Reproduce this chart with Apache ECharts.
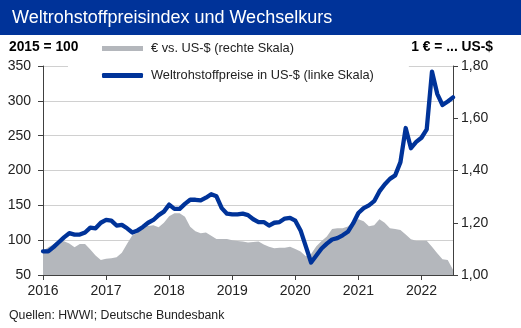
<!DOCTYPE html>
<html>
<head>
<meta charset="utf-8">
<script src="https://cdn.jsdelivr.net/npm/echarts@6/dist/echarts.min.js"></script>
<style>
  html, body { margin: 0; padding: 0; background: #fff; }
  #chart { width: 521px; height: 328px; }
</style>
</head>
<body>
<div id="chart"></div>
<script>
// Monthly observations, January 2016 to July 2022
const years = [2016, 2017, 2018, 2019, 2020, 2021, 2022];
const lastMonth2022 = 7;

// HWWI commodity price index in US-$ (2015 = 100), left scale
const commodityIndex = [
  84, 84, 90, 97, 104, 110, 108, 108, 111, 118, 117, 125,
  129, 128, 121, 122, 117, 111, 114, 119, 125, 129, 136, 141,
  151, 145, 145, 152, 158, 158, 157, 161, 166, 163, 146, 138,
  137, 137, 138, 136, 130, 126, 126, 121, 125, 126, 131, 132,
  128, 114, 91, 68, 78, 88, 95, 101, 103, 107, 112, 124,
  139, 146, 150, 156, 170, 180, 188, 193, 212, 261, 232, 241,
  247, 259, 342, 310, 294, 299, 305
];

// Euro exchange rate in US-$ per euro, right scale
const eurUsd = [
  1.092, 1.106, 1.118, 1.134, 1.129, 1.121, 1.106, 1.119, 1.119, 1.098, 1.075, 1.057,
  1.062, 1.064, 1.068, 1.085, 1.120, 1.152, 1.162, 1.192, 1.188, 1.190, 1.183, 1.200,
  1.225, 1.236, 1.236, 1.223, 1.185, 1.167, 1.160, 1.163, 1.150, 1.138, 1.138, 1.138,
  1.133, 1.130, 1.128, 1.124, 1.126, 1.128, 1.117, 1.108, 1.102, 1.104, 1.104, 1.108,
  1.100, 1.090, 1.072, 1.080, 1.110, 1.130, 1.147, 1.176, 1.179, 1.179, 1.186, 1.204,
  1.213, 1.206, 1.187, 1.190, 1.213, 1.200, 1.179, 1.176, 1.172, 1.155, 1.137, 1.131,
  1.131, 1.131, 1.108, 1.083, 1.060, 1.057, 1.020
];

const leftTicks = { min: 50, max: 350, step: 50 };
const rightTicks = { min: 1.0, max: 1.8, step: 0.2 };

const seriesNames = ['€ vs. US-$ (rechte Skala)', 'Weltrohstoffpreise in US-$ (linke Skala)'];

// month categories: "2016-01" ... "2022-07"
const months = [];
years.forEach(function (y) {
  const n = y === years[years.length - 1] ? lastMonth2022 : 12;
  for (let m = 1; m <= n; m++) months.push(y + '-' + (m < 10 ? '0' + m : m));
});

const BLUE = '#003399';
const GREY = '#b4b7bc';
const FONT = 'Liberation Sans, Arial, sans-serif';

const chart = echarts.init(document.getElementById('chart'), null, { renderer: 'canvas' });

chart.setOption({
  animation: false,
  textStyle: { fontFamily: FONT },
  grid: { left: 43, right: 68, top: 66, bottom: 53, containLabel: false },
  graphic: [
    { type: 'rect', left: 0, top: 0, shape: { width: 521, height: 35 }, style: { fill: BLUE }, z: 10 },
    { type: 'text', left: 12, top: 9, z: 11,
      style: { text: 'Weltrohstoffpreisindex und Wechselkurs', fill: '#fff', font: '18px ' + FONT } },
    { type: 'text', left: 9, top: 40, z: 11,
      style: { text: '2015 = 100', fill: '#000', font: 'bold 13.8px ' + FONT } },
    { type: 'text', right: 28, top: 40, z: 11,
      style: { text: '1 € = ... US-$', fill: '#000', font: 'bold 13.8px ' + FONT } },
    { type: 'text', left: 9, top: 310, z: 11,
      style: { text: 'Quellen: HWWI; Deutsche Bundesbank', fill: '#222', font: '12.3px ' + FONT } }
  ],
  legend: {
    orient: 'vertical',
    left: 68,
    top: 40,
    padding: [2, 35, 2, 34],
    backgroundColor: '#fff',
    itemGap: 14,
    itemWidth: 41,
    itemHeight: 5,
    textStyle: { fontFamily: FONT, fontSize: 12.8, color: '#222', padding: [0, 0, 0, 3] },
    data: [
      { name: seriesNames[0], icon: 'rect', itemStyle: { color: GREY } },
      { name: seriesNames[1], icon: 'roundRect', itemStyle: { color: BLUE } }
    ]
  },
  xAxis: {
    type: 'category',
    data: months,
    boundaryGap: false,
    axisLine: { lineStyle: { color: '#404040', width: 1 } },
    axisTick: {
      length: 5,
      lineStyle: { color: '#404040' },
      interval: function (i) { return i % 12 === 0; }
    },
    axisLabel: {
      interval: function (i) { return i % 12 === 0; },
      formatter: function (v) { return v.slice(0, 4); },
      color: '#222', fontSize: 14, margin: 9, fontFamily: FONT
    },
    splitLine: { show: false }
  },
  yAxis: [
    {
      type: 'value',
      min: leftTicks.min, max: leftTicks.max, interval: leftTicks.step,
      axisLine: { show: true, lineStyle: { color: '#404040' } },
      axisTick: { show: true, length: 5, lineStyle: { color: '#404040' } },
      axisLabel: { color: '#222', fontSize: 14, margin: 12, fontFamily: FONT },
      splitLine: { show: true, lineStyle: { color: '#d0d0d0', width: 1 } }
    },
    {
      type: 'value',
      position: 'right',
      min: rightTicks.min, max: rightTicks.max, interval: rightTicks.step,
      axisLine: { show: true, lineStyle: { color: '#404040' } },
      axisTick: { show: true, length: 5, lineStyle: { color: '#404040' } },
      axisLabel: {
        color: '#222', fontSize: 14, margin: 8, fontFamily: FONT,
        formatter: function (v) { return v.toFixed(2).replace('.', ','); }
      },
      splitLine: { show: false }
    }
  ],
  series: [
    {
      name: seriesNames[0],
      type: 'line',
      yAxisIndex: 1,
      data: eurUsd,
      symbol: 'none',
      lineStyle: { width: 0, color: GREY },
      itemStyle: { color: GREY },
      areaStyle: { color: GREY, opacity: 1, origin: 'start' },
      z: 1
    },
    {
      name: seriesNames[1],
      type: 'line',
      yAxisIndex: 0,
      data: commodityIndex,
      symbol: 'none',
      lineStyle: { width: 4.3, color: BLUE, join: 'round', cap: 'round' },
      itemStyle: { color: BLUE },
      z: 3
    }
  ]
});
</script>
</body>
</html>
